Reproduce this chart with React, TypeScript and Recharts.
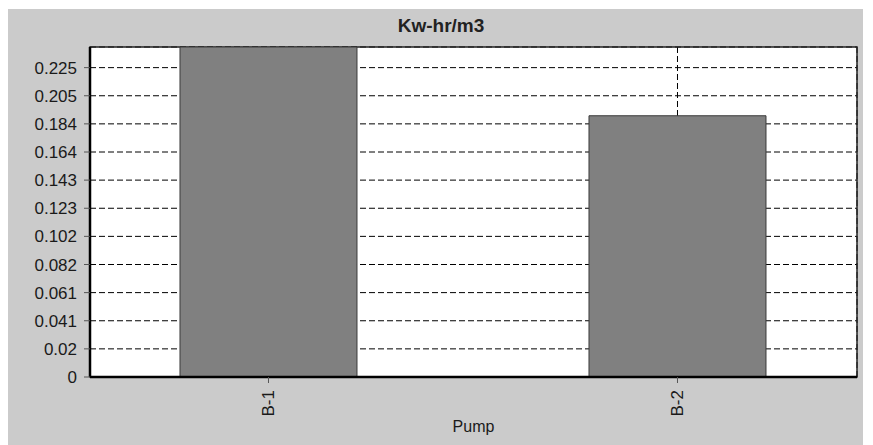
import {
  BarChart,
  Bar,
  XAxis,
  YAxis,
  CartesianGrid,
  ReferenceArea,
} from "recharts";

const pumps = ["B-1", "B-2"];
const kwhPerM3 = [0.24, 0.19];
const yTicks = [
  0, 0.020455, 0.040909, 0.061364, 0.081818, 0.102273, 0.122727, 0.143182,
  0.163636, 0.184091, 0.204545, 0.225,
];
const yMax = 0.24;

// pumps sit at positions 1, 2 on a numeric axis so the outer gaps can be set
const pumpPos = pumps.map((_, i) => i + 1);
const data = pumps.map((p, i) => ({ pump: p, pos: pumpPos[i], value: kwhPerM3[i] }));

const FONT = "'Liberation Sans', Arial, sans-serif";

// rotated category label, reads bottom-to-top
function PumpTick(props: any) {
  const { x, y, payload } = props;
  const ty = y + 7;
  return (
    <text
      x={x}
      y={ty}
      transform={`rotate(-90 ${x} ${ty})`}
      textAnchor="end"
      dy="0.35em"
      fontSize={17}
      fontFamily={FONT}
      fill="#1a1a1a"
    >
      {pumps[payload.value - 1]}
    </text>
  );
}

export default function App() {
  return (
    <div
      style={{
        position: "relative",
        width: 856,
        height: 436,
        marginLeft: -1,
        marginTop: 1,
        background: "#cbcbcb",
      }}
    >
      <div
        style={{
          position: "absolute",
          left: 0,
          width: 868,
          top: 6,
          textAlign: "center",
          fontFamily: FONT,
          fontWeight: "bold",
          fontSize: 19,
          color: "#222",
        }}
      >
        Kw-hr/m3
      </div>
      <BarChart
        width={856}
        height={436}
        data={data}
        margin={{ top: 38, right: 6, left: 0, bottom: 0 }}
        barSize={177}
        style={{ position: "absolute", left: 0, top: 0 }}
      >
        <CartesianGrid
          fill="#ffffff"
          stroke="#000"
          strokeDasharray="6 3"
          strokeWidth={1}
        />
        <XAxis
          dataKey="pos"
          type="number"
          domain={[0.5636, 2.4389]}
          ticks={pumpPos}
          allowDataOverflow
          height={68}
          axisLine={{ stroke: "#000", strokeWidth: 2.5 }}
          tickLine={{ stroke: "#555" }}
          tickSize={6}
          tickMargin={0}
          tick={<PumpTick />}
          label={{
            value: "Pump",
            position: "insideBottom",
            offset: 13,
            fontSize: 16,
            fontFamily: FONT,
            fill: "#1a1a1a",
          }}
        />
        <YAxis
          width={83}
          domain={[0, yMax]}
          ticks={yTicks}
          interval={0}
          allowDataOverflow
          tickFormatter={(v: number) => String(Number(v.toFixed(3)))}
          axisLine={{ stroke: "#000", strokeWidth: 2.5 }}
          tickLine={{ stroke: "#555" }}
          tickSize={6}
          tickMargin={7}
          tick={{ fontSize: 17, fontFamily: FONT, fill: "#1a1a1a" }}
        />
        <Bar
          dataKey="value"
          fill="#808080"
          stroke="#3a3a3a"
          strokeWidth={1}
          isAnimationActive={false}
        />
        {/* plot frame */}
        <ReferenceArea
          y1={0}
          y2={yMax}
          fill="none"
          fillOpacity={0}
          stroke="#222"
          strokeWidth={1.5}
        />
      </BarChart>
    </div>
  );
}
